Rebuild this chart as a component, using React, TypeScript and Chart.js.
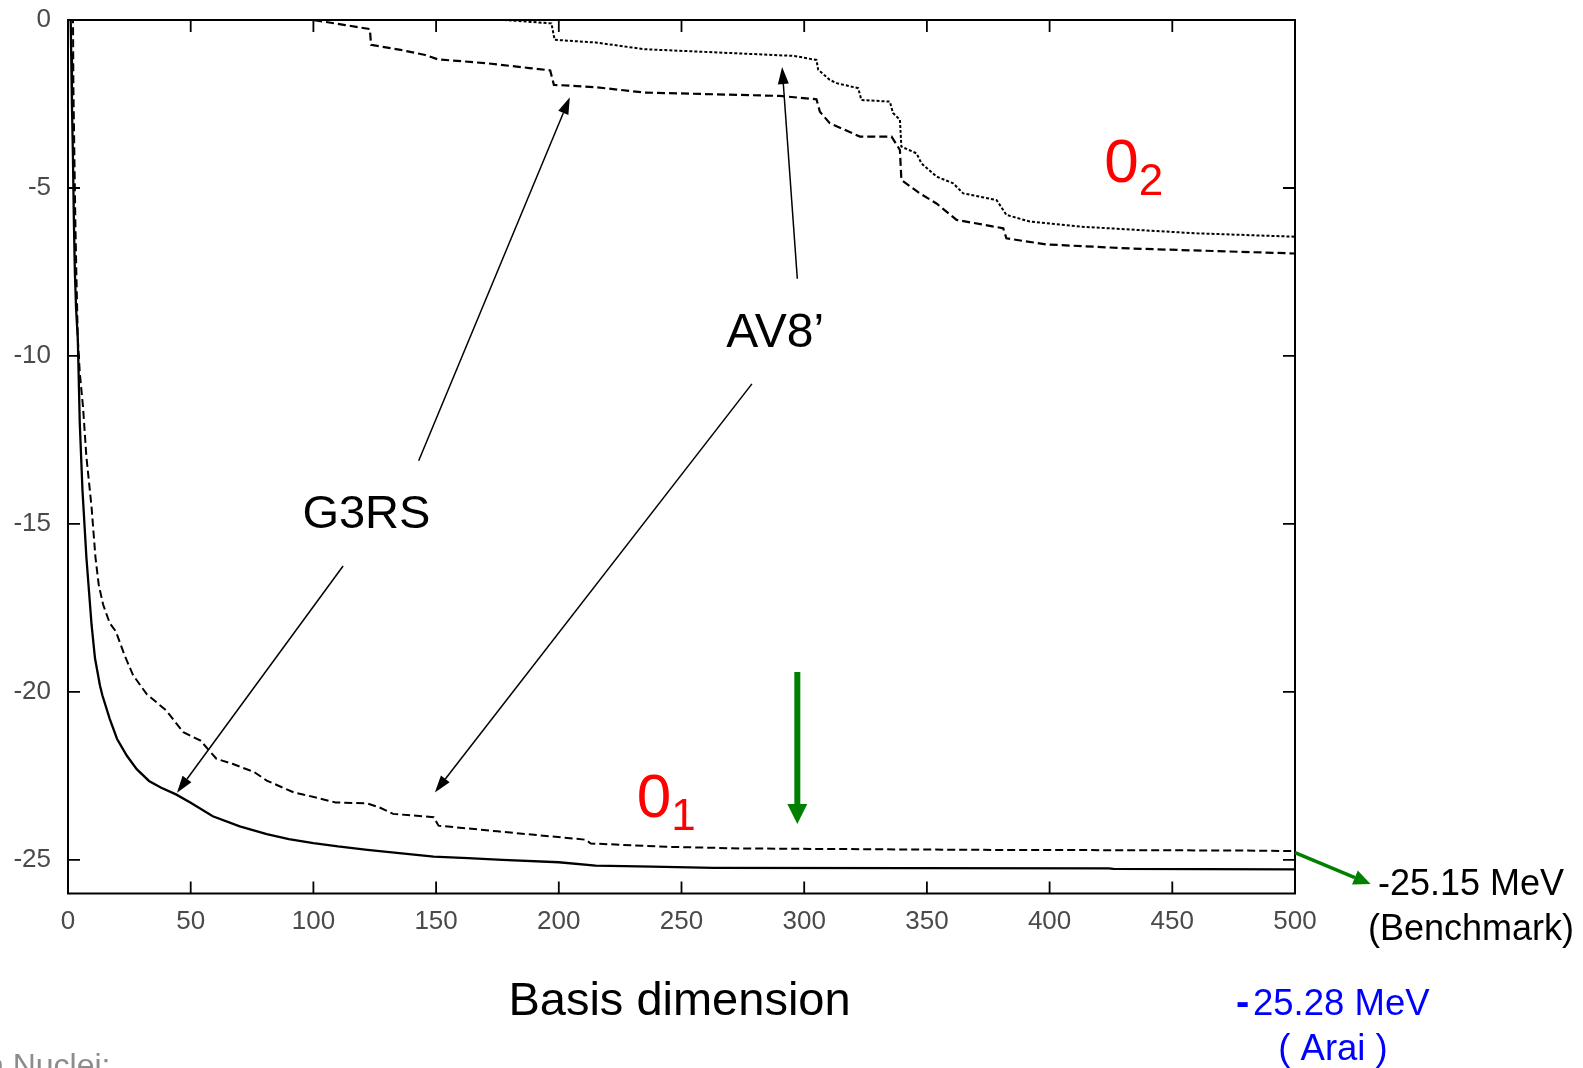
import React, { useEffect, useRef } from 'react';
import { Chart, registerables } from 'chart.js';

Chart.register(...registerables);

// Axis ranges and tick values
const X_MIN = 0;
const X_MAX = 500;
const Y_MIN = -26;
const Y_MAX = 0;
const X_TICKS = [0, 50, 100, 150, 200, 250, 300, 350, 400, 450, 500];
const Y_TICKS = [0, -5, -10, -15, -20, -25];

// Energy (MeV) versus basis dimension, [dimension, energy]
// G3RS potential, ground state 0_1
const g3rsGround: [number, number][] = [
  [1, 0.5], [1.3, -1], [1.6, -2.5], [2, -4], [2.4, -6], [2.8, -7.5], [3.3, -8.6], [4, -9.5],
  [4.8, -12], [5.9, -14], [7.5, -16], [9.6, -18], [11, -19], [13, -19.8], [14, -20.1],
  [17, -20.8], [20, -21.4], [24, -21.9], [28, -22.3], [33, -22.65], [38, -22.85], [44, -23.05],
  [50, -23.3], [59, -23.7], [70, -24.0], [81, -24.23], [90, -24.38], [100, -24.5], [110, -24.6],
  [122, -24.7], [135, -24.8], [149, -24.9], [163, -24.95], [177, -25.0], [200, -25.07],
  [215, -25.17], [238, -25.2], [263, -25.24], [424, -25.25], [426, -25.27], [500, -25.28],
];

// AV8' potential, ground state 0_1
const av8Ground: [number, number][] = [
  [2, 0.5], [2.2, -2], [2.6, -4], [3, -6], [3.4, -7.5], [4, -9.5], [4.8, -10.5], [6.1, -11.5],
  [7.5, -13], [9.6, -14.5], [11.2, -16], [12.5, -16.8], [14.3, -17.4], [17, -17.95],
  [19.5, -18.2], [21.5, -18.6], [23, -18.9], [26.5, -19.5], [32, -20.06], [40, -20.55],
  [47, -21.2], [54, -21.45], [60.5, -21.99], [67, -22.14], [76, -22.39], [81, -22.64],
  [92, -22.99], [101, -23.14], [109, -23.29], [122, -23.32], [127, -23.44], [132.5, -23.63],
  [149, -23.73], [151, -23.98], [175, -24.15], [211, -24.4], [213, -24.51], [244, -24.61],
  [275, -24.66], [368, -24.7], [478, -24.72], [500, -24.74],
];

// G3RS potential, excited state 0_2
const g3rsExcited: [number, number][] = [
  [98, 0.3], [100, 0], [113, -0.15], [123, -0.27], [123.5, -0.74], [135.5, -0.89],
  [145.6, -1.04], [150.7, -1.17], [171, -1.29], [188, -1.43], [196.5, -1.5], [198, -1.93],
  [215, -2.0], [235, -2.16], [290, -2.26], [305, -2.36], [306.4, -2.73], [310.4, -3.07],
  [322.7, -3.47], [335.6, -3.47], [339, -3.87], [339.6, -4.76], [347.1, -5.16], [353.9, -5.46],
  [362.1, -5.95], [381.1, -6.2], [382.4, -6.5], [398.7, -6.68], [432.7, -6.8], [500, -6.95],
];

// AV8' potential, excited state 0_2
const av8Excited: [number, number][] = [
  [176, 0.3], [178, 0], [197, -0.1], [198.3, -0.59], [215, -0.67], [235, -0.87], [272, -0.99],
  [296, -1.07], [305, -1.19], [305.7, -1.48], [310.4, -1.78], [313.2, -1.88], [322, -2.03],
  [323.3, -2.38], [334.9, -2.43], [336.2, -2.77], [339, -2.97], [339.6, -3.77], [345.8, -3.97],
  [347.8, -4.27], [353.9, -4.66], [360.7, -4.86], [364.8, -5.16], [378.4, -5.36],
  [382.4, -5.8], [391.9, -6.0], [412.3, -6.15], [459.9, -6.35], [500, -6.45],
];

// Pointer arrows in data units: [fromX, fromY, toX, toY]
const g3rsArrows: [number, number, number, number][] = [
  [142.9, -13.12, 204.5, -2.3],
  [112.1, -16.25, 44.4, -23.0],
];
const av8Arrows: [number, number, number, number][] = [
  [297.2, -7.7, 291, -1.4],
  [278.7, -10.83, 149.5, -22.99],
];
const convergenceArrow: [number, number, number, number] = [297.2, -19.41, 297.2, -23.93];
const benchmarkArrow: [number, number, number, number] = [500, -24.78, 530.8, -25.72];

const FONT = '"Liberation Sans", Arial, Helvetica, sans-serif';

function drawArrow(
  ctx: CanvasRenderingContext2D,
  x1: number, y1: number, x2: number, y2: number,
  color: string, width: number, headLen: number, headWidth: number,
) {
  const ang = Math.atan2(y2 - y1, x2 - x1);
  const bx = x2 - headLen * Math.cos(ang);
  const by = y2 - headLen * Math.sin(ang);
  ctx.strokeStyle = color;
  ctx.lineWidth = width;
  ctx.lineCap = 'butt';
  ctx.beginPath();
  ctx.moveTo(x1, y1);
  ctx.lineTo(bx, by);
  ctx.stroke();
  ctx.fillStyle = color;
  ctx.beginPath();
  ctx.moveTo(x2, y2);
  ctx.lineTo(bx + (headWidth / 2) * Math.sin(ang), by - (headWidth / 2) * Math.cos(ang));
  ctx.lineTo(bx - (headWidth / 2) * Math.sin(ang), by + (headWidth / 2) * Math.cos(ang));
  ctx.closePath();
  ctx.fill();
}

const overlayPlugin = {
  id: 'overlay',
  afterDatasetsDraw(chart: any) {
    const { ctx, chartArea: ca, scales } = chart;
    const xs = scales.x;
    const ys = scales.y;
    const px = (v: number) => xs.getPixelForValue(v);
    const py = (v: number) => ys.getPixelForValue(v);
    ctx.save();

    // Frame
    ctx.strokeStyle = '#000';
    ctx.lineWidth = 2;
    ctx.strokeRect(ca.left, ca.top, ca.right - ca.left, ca.bottom - ca.top);

    // Inward tick marks on all four sides
    const TL = 12;
    ctx.lineWidth = 1.8;
    ctx.beginPath();
    X_TICKS.forEach((v) => {
      const p = px(v);
      ctx.moveTo(p, ca.bottom);
      ctx.lineTo(p, ca.bottom - TL);
      ctx.moveTo(p, ca.top);
      ctx.lineTo(p, ca.top + TL);
    });
    Y_TICKS.forEach((v) => {
      const p = py(v);
      ctx.moveTo(ca.left, p);
      ctx.lineTo(ca.left + TL, p);
      ctx.moveTo(ca.right, p);
      ctx.lineTo(ca.right - TL, p);
    });
    ctx.stroke();

    // Black pointer arrows
    [...g3rsArrows, ...av8Arrows].forEach(([a, b, c, d]) => {
      drawArrow(ctx, px(a), py(b), px(c), py(d), '#000', 1.5, 17, 11);
    });

    // Green arrows
    {
      const [a, b, c, d] = convergenceArrow;
      drawArrow(ctx, px(a), py(b), px(c), py(d), '#008000', 6, 20, 20);
    }
    {
      const [a, b, c, d] = benchmarkArrow;
      drawArrow(ctx, px(a), py(b), px(c), py(d), '#008000', 3.5, 17, 15);
    }

    // Labels
    ctx.textBaseline = 'middle';
    ctx.textAlign = 'center';
    ctx.fillStyle = '#000';
    ctx.font = `47px ${FONT}`;
    ctx.fillText('G3RS', px(121.6), py(-14.74));
    ctx.font = `48px ${FONT}`;
    ctx.fillText('AV8\u2019', px(288.2), py(-9.33));

    // State labels 0_2 and 0_1
    ctx.fillStyle = '#ff0000';
    ctx.textBaseline = 'alphabetic';
    ctx.textAlign = 'left';
    const stateLabel = (x: number, y: number, sub: string) => {
      const bx = px(x);
      const by = py(y);
      ctx.font = `62px ${FONT}`;
      ctx.fillText('0', bx, by);
      const w = ctx.measureText('0').width;
      ctx.font = `44px ${FONT}`;
      ctx.fillText(sub, bx + w, by + 13);
    };
    stateLabel(422.3, -4.81, '2');
    stateLabel(231.8, -23.71, '1');

    // Axis title
    ctx.fillStyle = '#000';
    ctx.textAlign = 'center';
    ctx.textBaseline = 'middle';
    ctx.font = `47px ${FONT}`;
    ctx.fillText('Basis dimension', (ca.left + ca.right) / 2 - 2, ca.bottom + 109);

    // Reference energies
    ctx.textBaseline = 'alphabetic';
    ctx.font = `36px ${FONT}`;
    ctx.fillText('-25.15 MeV', ca.right + 176, ca.bottom + 1);
    ctx.fillText('(Benchmark)', ca.right + 176, ca.bottom + 46);

    ctx.fillStyle = '#0000ff';
    ctx.textAlign = 'left';
    ctx.font = `bold 40px ${FONT}`;
    ctx.fillText('-', ca.right - 59, ca.bottom + 121);
    ctx.font = `36.5px ${FONT}`;
    ctx.fillText('25.28 MeV', ca.right - 42, ca.bottom + 121);
    ctx.textAlign = 'center';
    ctx.fillText('( Arai )', ca.right + 38, ca.bottom + 166);

    // Footer text, cut by the left edge
    ctx.fillStyle = '#8c8c8c';
    ctx.textAlign = 'left';
    ctx.font = `32px ${FONT}`;
    ctx.fillText('n Nuclei:', -14, 1076);

    ctx.restore();
  },
};

const toPoints = (s: [number, number][]) => s.map(([x, y]) => ({ x, y }));

export default function App() {
  const canvasRef = useRef<HTMLCanvasElement | null>(null);

  useEffect(() => {
    const canvas = canvasRef.current;
    if (!canvas) return;
    const lineBase = { pointRadius: 0, tension: 0, fill: false, borderCapStyle: 'butt' as const };
    const chart = new Chart(canvas, {
      type: 'line',
      data: {
        datasets: [
          { ...lineBase, label: 'G3RS 0_1', data: toPoints(g3rsGround), borderColor: '#000', borderWidth: 2.3 },
          { ...lineBase, label: "AV8' 0_1", data: toPoints(av8Ground), borderColor: '#000', borderWidth: 2, borderDash: [8, 4] },
          { ...lineBase, label: 'G3RS 0_2', data: toPoints(g3rsExcited), borderColor: '#000', borderWidth: 2.2, borderDash: [8, 4] },
          { ...lineBase, label: "AV8' 0_2", data: toPoints(av8Excited), borderColor: '#000', borderWidth: 2, borderDash: [3, 2] },
        ],
      },
      options: {
        responsive: false,
        animation: false,
        devicePixelRatio: 1,
        layout: { padding: { left: 0, top: 20, right: 288, bottom: 0 } },
        plugins: { legend: { display: false }, tooltip: { enabled: false }, title: { display: false } },
        scales: {
          x: {
            type: 'linear',
            min: X_MIN,
            max: X_MAX,
            grid: { display: false, drawTicks: false },
            border: { display: false },
            afterBuildTicks: (s: any) => { s.ticks = X_TICKS.map((value) => ({ value })); },
            afterFit: (s: any) => {
              s.height = 174.5;
              s.paddingLeft = 0;
              s.paddingRight = 0;
            },
            ticks: {
              autoSkip: false,
              maxRotation: 0,
              padding: 13,
              color: '#4a4a4a',
              font: { family: FONT, size: 26 },
            },
          },
          y: {
            type: 'linear',
            min: Y_MIN,
            max: Y_MAX,
            grid: { display: false, drawTicks: false },
            border: { display: false },
            afterBuildTicks: (s: any) => { s.ticks = Y_TICKS.map((value) => ({ value })); },
            afterFit: (s: any) => {
              s.width = 68;
              s.paddingTop = 0;
              s.paddingBottom = 0;
            },
            ticks: {
              autoSkip: false,
              padding: 17,
              color: '#4a4a4a',
              font: { family: FONT, size: 26 },
            },
          },
        },
      },
      plugins: [overlayPlugin],
    });
    return () => chart.destroy();
  }, []);

  return (
    <div style={{ position: 'fixed', left: 0, top: 0, width: 1583, height: 1068, background: '#fff' }}>
      <canvas ref={canvasRef} width={1583} height={1068} style={{ display: 'block', width: 1583, height: 1068 }} />
    </div>
  );
}
